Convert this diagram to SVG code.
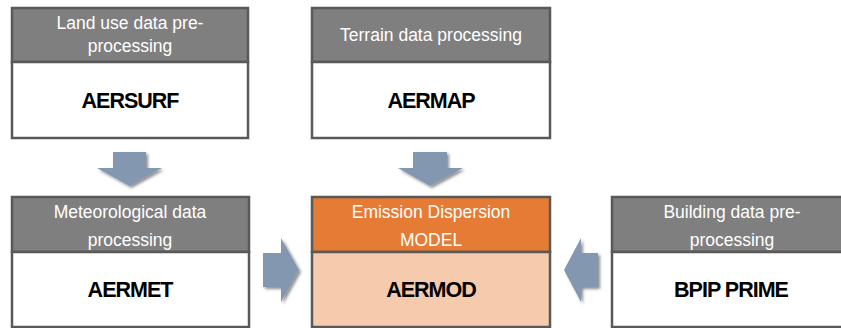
<svg xmlns="http://www.w3.org/2000/svg" width="841" height="328" viewBox="0 0 841 328">
<defs>
<filter id="sh" x="-30%" y="-30%" width="160%" height="160%">
<feGaussianBlur in="SourceAlpha" stdDeviation="1.5"/>
<feOffset dx="2" dy="2" result="o"/>
<feComponentTransfer><feFuncA type="linear" slope="0.45"/></feComponentTransfer>
<feMerge><feMergeNode/><feMergeNode in="SourceGraphic"/></feMerge>
</filter>
</defs>
<style>
.hd{fill:#7f7f7f;stroke:#595959;stroke-width:2.5}
.hdo{fill:#e57b35;stroke:#595959;stroke-width:2.5}
.bd{fill:#ffffff;stroke:#595959;stroke-width:2.5}
.bdo{fill:#f6cbad;stroke:#595959;stroke-width:2.5}
.ht{font-family:"Liberation Sans",Arial,sans-serif;font-size:17.5px;fill:#ffffff;text-anchor:middle}
.bt{font-family:"Liberation Sans",Arial,sans-serif;font-size:21.5px;font-weight:bold;fill:#000000;text-anchor:middle;letter-spacing:-1px}
.ar{fill:#8497b0;filter:url(#sh)}
</style>
<g id="aersurf">
<rect class="hd" x="12" y="8" width="236" height="54"/>
<text class="ht" x="130" y="29">Land use data pre-</text>
<text class="ht" x="130" y="52">processing</text>
<rect class="bd" x="12" y="62" width="236" height="76"/>
<text class="bt" x="130" y="108">AERSURF</text>
</g>
<g id="aermap">
<rect class="hd" x="312" y="8" width="238" height="54"/>
<text class="ht" x="431" y="41">Terrain data processing</text>
<rect class="bd" x="312" y="62" width="238" height="76"/>
<text class="bt" x="431" y="108">AERMAP</text>
</g>
<g id="aermet">
<rect class="hd" x="12" y="197" width="237" height="55"/>
<text class="ht" x="130" y="218">Meteorological data</text>
<text class="ht" x="130" y="246">processing</text>
<rect class="bd" x="12" y="252" width="237" height="75"/>
<text class="bt" x="130" y="297">AERMET</text>
</g>
<g id="aermod">
<rect class="hdo" x="312" y="197" width="238" height="55"/>
<text class="ht" x="431" y="218">Emission Dispersion</text>
<text class="ht" x="431" y="246">MODEL</text>
<rect class="bdo" x="312" y="252" width="238" height="75"/>
<text class="bt" x="431" y="297">AERMOD</text>
</g>
<g id="bpip">
<rect class="hd" x="612" y="197" width="240" height="55"/>
<text class="ht" x="732" y="218">Building data pre-</text>
<text class="ht" x="732" y="246">processing</text>
<rect class="bd" x="612" y="252" width="240" height="75"/>
<text class="bt" x="731" y="297">BPIP PRIME</text>
</g>
<g id="connectors">
<polygon class="ar" points="113,152 146,152 146,168 162,168 129.5,186 97,168 113,168"/>
<polygon class="ar" points="413,152 447,152 447,168 463,168 430,186 398,168 413,168"/>
<polygon class="ar" points="263,253 281,253 281,238 299,270 281,302 281,287 263,287"/>
<polygon class="ar" points="598,253 581,253 581,238 564,270 581,302 581,287 598,287"/>
</g>
</svg>
